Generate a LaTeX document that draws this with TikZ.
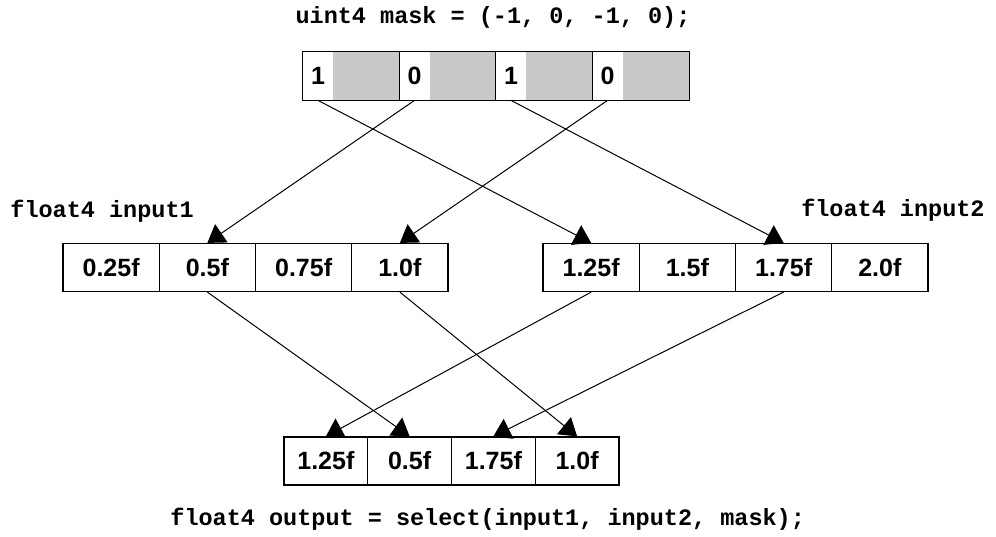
\documentclass[tikz,border=0pt]{standalone}
\usepackage{fontspec}
\usepackage{tikz}
\usetikzlibrary{arrows.meta}
\newfontfamily\codefont{Liberation Mono}
\newfontfamily\numfont{Liberation Sans}
\definecolor{maskgray}{RGB}{200,201,203}
\begin{document}
\begin{tikzpicture}[x=0.5pt,y=-0.5pt,
  cell/.style={draw, line width=0.6pt, minimum width=48.1pt, minimum height=24pt, inner sep=0pt, font=\numfont\bfseries\fontsize{12.5pt}{14pt}\selectfont},
  outcell/.style={cell, minimum width=41.9pt},
  maskcell/.style={fill=maskgray, minimum width=48.25pt, minimum height=24pt, inner sep=0pt},
  maskbit/.style={fill=white, anchor=west, minimum width=15pt, minimum height=24pt, inner sep=0pt, font=\numfont\bfseries\fontsize{12.5pt}{14pt}\selectfont},
  code/.style={inner sep=0pt, font=\codefont\bfseries\fontsize{11.75pt}{14pt}\selectfont},
  conn/.style={line width=0.5pt, -{Triangle[length=8.5pt,width=11pt]}}]
\useasboundingbox (0,0) rectangle (996,536);
\node [code, anchor=base] (masklabel) at (493,23) {uint4 mask = (-1, 0, -1, 0);};
\foreach \b [count=\i] in {1,0,1,0} {
  \node [maskcell] (m\i) at ({303+96.5*(\i-0.5)},76) {};
  \node [maskbit] (b\i) at (m\i.west) {\b};
  \draw [line width=0.6pt] (m\i.north west) rectangle (m\i.south east);
}
\node [code, anchor=base west] (in1label) at (10,217) {float4 input1};
\node [code, anchor=base east] (in2label) at (985,216) {float4 input2};
\foreach \v [count=\i] in {0.25f,0.5f,0.75f,1.0f}
  \node [cell] (a\i) at ({63+96.25*(\i-0.5)},267.5) {\v};
\foreach \v [count=\i] in {1.25f,1.5f,1.75f,2.0f}
  \node [cell] (c\i) at ({543+96.25*(\i-0.5)},267.5) {\v};
\foreach \v [count=\i] in {1.25f,0.5f,1.75f,1.0f}
  \node [outcell] (o\i) at ({284+83.75*(\i-0.5)},461) {\v};
\node [code, anchor=base west] (outlabel) at (170,525) {float4 output = select(input1, input2, mask);};
\draw [conn] (b1.south) -- (c1.north);
\draw [conn] (b2.south) -- (a2.north);
\draw [conn] (b3.south) -- (c3.north);
\draw [conn] (b4.south) -- (a4.north);
\draw [conn] (a2.south) -- (o2.north);
\draw [conn] (a4.south) -- (o4.north);
\draw [conn] (c1.south) -- (o1.north);
\draw [conn] (c3.south) -- (o3.north);
\end{tikzpicture}
\end{document}
